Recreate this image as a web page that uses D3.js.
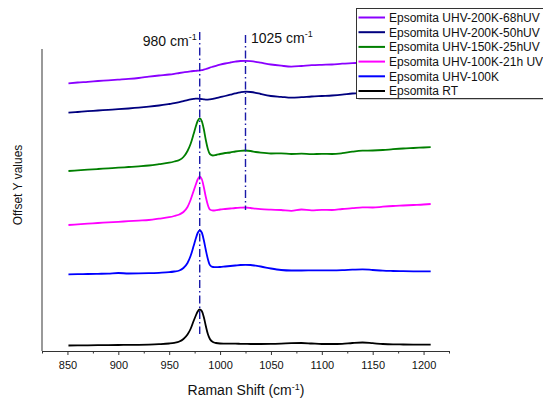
<!DOCTYPE html>
<html><head><meta charset="utf-8">
<script src="https://cdn.jsdelivr.net/npm/d3@7"></script>
<style>
html,body{margin:0;padding:0;background:#fff;}
svg{display:block;font-family:"Liberation Sans",Arial,sans-serif;}
</style>
</head><body>
<svg id="chart" width="543" height="398"></svg>
<script>
const wavenumbers = [851,860,870,880,890,900,910,920,930,940,950,955,960,964,968,971,974,976,978,980,982,984,986,988,990,993,996,1000,1005,1010,1015,1020,1025,1030,1035,1040,1050,1060,1070,1080,1090,1100,1110,1120,1130,1140,1150,1160,1170,1180,1190,1200,1207];

const rt = [5.5,5.6,5.7,5.8,5.9,6.0,6.1,6.2,6.4,6.8,7.5,8.2,9.5,12,16.5,22,30,35,39.5,41.5,40,34,25,17,12,9,8,7.5,7.4,7.3,7.3,7.2,7.1,7.0,7.0,7.0,7.1,7.4,7.8,8.0,7.5,7.0,7.0,7.2,8.0,8.5,7.8,7.0,6.6,6.5,6.4,6.3,6.3];
const uhv100K = [76.7,76.9,77.0,77.2,77.4,78.0,77.5,77.6,77.8,78.2,78.8,79.5,80.5,83,88,95,105,112,118,120.5,118.5,111,101,92,86,84,83.8,84,84.5,85,85.5,86,86.2,86,85.3,84.5,82.5,81,80.5,80.5,80.6,80.7,80.6,80.8,81.3,81.7,81.0,80.3,80.0,79.8,79.7,79.6,79.6];
const uhv100K21h = [126,126.6,127.3,128,128.6,129.2,129.8,130.4,131,132.3,133.8,135,136.5,139,144,151,160,166,171.5,174.3,172,164,154,146,141.5,140.5,140.8,141.5,142,142.5,143,143.3,143.5,143,142.3,141.8,141.3,141,140.2,141.5,140.6,141.2,141,142,142.8,143.7,143.5,144.3,145,145.5,146,146.5,147];
const uhv150K25h = [180,180.6,181.3,182,182.7,183.3,184,184.7,185.5,186.8,188.3,189.5,191,194,200,207,217,224,230,232.7,230,222,211,202,197,195.5,196,197,198,198.5,199.5,200.2,200.5,200,199,198.3,197.5,197.6,197,197.3,196.8,197.2,197,197.8,199.3,200.3,200.5,201,201.8,202.5,203,203.5,203.8];
const uhv200K50h = [238.3,239,239.8,240.5,241.2,241.8,242.5,243.3,244.3,245.5,247,247.8,248.8,249.8,250.9,251.6,252.1,252.3,252.3,252.2,251.9,251.6,251.4,251.4,251.6,252.1,252.8,253.8,255,256.3,257.6,258.7,259.3,259,258.2,257,255,254.2,253.3,253.8,254.5,255,255.5,256.3,257.5,258,258.3,258.7,259,259.3,259.6,260,260.2];
const uhv200K68h = [267.7,268.5,269.2,270,270.7,271.4,272.1,273,274.3,275.5,276.5,277.2,278,278.6,279.2,279.6,280,280.2,280.3,280.4,280.8,281.4,282,282.7,283.4,284.3,285.2,286.3,287.5,288.5,289.4,290,290.1,289.8,289.2,288.3,286.5,285.3,284.4,285,285.8,286.2,286.5,287.3,287.8,288.3,288.5,288.8,289,289.3,289.5,289.8,290];

const seriesNames = ["Epsomita UHV-200K-68hUV","Epsomita UHV-200K-50hUV","Epsomita UHV-150K-25hUV","Epsomita UHV-100K-21h UV","Epsomita UHV-100K","Epsomita RT"];
const seriesValues = [uhv200K68h, uhv200K50h, uhv150K25h, uhv100K21h, uhv100K, rt];
const seriesColors = ["#8a00ff","#00007f","#007f00","#ff00ff","#0000ff","#000000"];

const xTicks = [850,900,950,1000,1050,1100,1150,1200];
const xMinorTicks = [825,875,925,975,1025,1075,1125,1175,1225];
const refPeaks = [980, 1025];
const refTops = [319, 316];
const refBottoms = [17, 141];
const refLabels = ["980 cm", "1025 cm"];

const svg = d3.select("#chart");
const x = d3.scaleLinear().domain([825,1225]).range([42,449]);
const y = d3.scaleLinear().domain([0,302]).range([351,49]);

// axes
const xAxis = svg.append("g").attr("transform","translate(0,351)")
  .call(d3.axisBottom(x).tickValues(xTicks).tickSize(4).tickSizeOuter(0).tickPadding(6).tickFormat(d3.format("d")));
xAxis.select(".domain").attr("stroke","#333").attr("stroke-width",1.2);
xAxis.selectAll(".tick line").attr("stroke","#333");
xAxis.selectAll("text").attr("font-size","11px").attr("fill","#111").attr("font-family","Liberation Sans, Arial, sans-serif");
const xMinor = svg.append("g").attr("transform","translate(0,351)")
  .call(d3.axisBottom(x).tickValues(xMinorTicks).tickSize(2.5).tickFormat(""));
xMinor.select(".domain").remove();
xMinor.selectAll(".tick line").attr("stroke","#333");

svg.append("line").attr("x1",42).attr("x2",42).attr("y1",y(302)).attr("y2",y(0))
  .attr("stroke","#777").attr("stroke-width",1.5);

// axis titles
const xt = svg.append("text").attr("x",246).attr("y",395).attr("text-anchor","middle")
  .attr("font-size","14px").attr("fill","#111");
xt.append("tspan").text("Raman Shift (cm");
xt.append("tspan").attr("dy",-5).attr("font-size","9px").text("-1");
xt.append("tspan").attr("dy",5).text(")");

svg.append("text").attr("transform","translate(22,185) rotate(-90)").attr("text-anchor","middle")
  .attr("font-size","12px").attr("fill","#111").text("Offset Y values");

// series
const line = d3.line().x((d,i)=>x(wavenumbers[i])).y(d=>y(d)).curve(d3.curveMonotoneX);
seriesValues.forEach((vals,k)=>{
  svg.append("path").datum(vals).attr("d",line).attr("fill","none")
    .attr("stroke",seriesColors[k]).attr("stroke-width",1.8).attr("stroke-linejoin","round");
});

// reference lines
refPeaks.forEach((p,i)=>{
  svg.append("line").attr("x1",x(p)).attr("x2",x(p)).attr("y1",y(refTops[i])).attr("y2",y(refBottoms[i]))
    .attr("stroke","#1a1aa8").attr("stroke-width",1.4).attr("stroke-dasharray","8,3,1.5,3");
});
const l1 = svg.append("text").attr("x",x(980)-3).attr("y",46).attr("text-anchor","end").attr("font-size","14px").attr("fill","#111");
l1.append("tspan").text(refLabels[0]);
l1.append("tspan").attr("dy",-6).attr("font-size","9px").text("-1");
const l2 = svg.append("text").attr("x",x(1025)+5.5).attr("y",43).attr("text-anchor","start").attr("font-size","14px").attr("fill","#111");
l2.append("tspan").text(refLabels[1]);
l2.append("tspan").attr("dy",-6).attr("font-size","9px").text("-1");

// legend
const lg = svg.append("g");
lg.append("rect").attr("x",358.5).attr("y",10.5).attr("width",200).attr("height",89).attr("fill","#999");
lg.append("rect").attr("x",356.5).attr("y",8.5).attr("width",200).attr("height",90).attr("fill","#fff").attr("stroke","#333").attr("stroke-width",1);
seriesNames.forEach((n,i)=>{
  const cy = 17.5 + i*14.7;
  lg.append("line").attr("x1",358.5).attr("x2",385).attr("y1",cy).attr("y2",cy).attr("stroke",seriesColors[i]).attr("stroke-width",2);
  lg.append("text").attr("x",389).attr("y",cy+4.3).attr("font-size","12px").attr("fill","#111").text(n);
});
</script>
</body></html>
